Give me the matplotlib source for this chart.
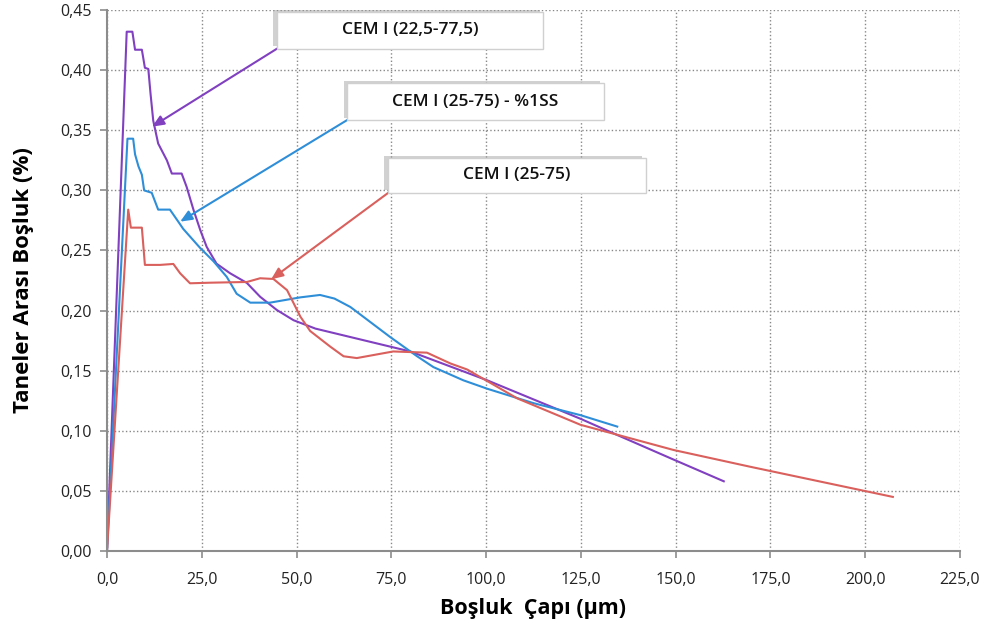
import matplotlib.pyplot as plt
from matplotlib.patches import Rectangle
from matplotlib.ticker import MultipleLocator, FuncFormatter

purple_x = [0, 5.2, 6.7, 7.4, 9.2, 10.0, 10.9, 11.5, 12.2, 13.5, 15.8, 17.1, 19.7, 21.0,
            22.8, 24.6, 26.3, 28.9, 32.5, 36.9, 40.4, 44.8, 49.2, 55.0, 64.2, 80.0,
            100.3, 124.9, 134.6, 149.5, 162.7]
purple_y = [0, 0.432, 0.432, 0.417, 0.417, 0.402, 0.401, 0.380, 0.358, 0.339, 0.325, 0.314,
            0.314, 0.303, 0.284, 0.267, 0.253, 0.239, 0.231, 0.223, 0.2115, 0.2005, 0.192,
            0.185, 0.178, 0.166, 0.142, 0.110, 0.0965, 0.076, 0.058]

blue_x = [0, 5.4, 6.9, 7.4, 8.3, 9.2, 9.8, 11.8, 13.5, 16.6, 18.8, 20.1, 24.6, 28.1, 31.6,
          34.2, 37.8, 43.0, 51.0, 56.2, 60.0, 64.2, 74.7, 81.8, 86.1, 94.0, 100.3, 112.5,
          124.9, 134.6]
blue_y = [0, 0.343, 0.343, 0.330, 0.320, 0.313, 0.300, 0.298, 0.284, 0.284, 0.274, 0.268,
          0.252, 0.241, 0.228, 0.214, 0.2066, 0.2066, 0.211, 0.213, 0.210, 0.203, 0.178,
          0.162, 0.153, 0.142, 0.135, 0.123, 0.113, 0.1035]

red_x = [0, 5.6, 6.3, 9.2, 10.0, 14.0, 17.5, 19.3, 21.9, 27.2, 36.9, 40.4, 43.9, 47.5,
         51.0, 53.6, 58.9, 62.4, 65.9, 75.5, 84.4, 90.6, 95.0, 108.2, 124.9, 149.5,
         169.8, 207.3]
red_y = [0, 0.284, 0.269, 0.269, 0.238, 0.238, 0.2388, 0.231, 0.2227, 0.2232, 0.2238,
         0.2269, 0.2263, 0.217, 0.195, 0.183, 0.170, 0.162, 0.1605, 0.166, 0.165, 0.156,
         0.151, 0.127, 0.105, 0.084, 0.070, 0.045]

labels = ['CEM I (22,5-77,5)', 'CEM I (25-75) - %1SS', 'CEM I (25-75)']
colors = ['#8040c0', '#2f8ed8', '#d9605c']

# callout boxes (x0, x1, y0, y1) and arrow tips, data coords
boxes = [(44.9, 115.1, 0.418, 0.448), (63.4, 131.0, 0.3586, 0.389), (74.2, 142.1, 0.298, 0.327)]
tips = [(11.9, 0.353), (19.3, 0.274), (43.3, 0.226)]

plt.rcParams['font.family'] = ['Open Sans', 'DejaVu Sans']

fig = plt.figure(figsize=(9.87, 6.29), dpi=100)
ax = fig.add_axes([0.1084, 0.124, 0.8642, 0.86])

for xs, ys, c in [(purple_x, purple_y, colors[0]), (blue_x, blue_y, colors[1]),
                  (red_x, red_y, colors[2])]:
    ax.plot(xs, ys, color=c, lw=1.5, solid_joinstyle='round')

ax.set_xlim(0, 225)
ax.set_ylim(0, 0.45)
ax.xaxis.set_major_locator(MultipleLocator(25))
ax.yaxis.set_major_locator(MultipleLocator(0.05))
ax.xaxis.set_major_formatter(FuncFormatter(lambda v, p: f'{v:.1f}'.replace('.', ',')))
ax.yaxis.set_major_formatter(FuncFormatter(lambda v, p: f'{v:.2f}'.replace('.', ',')))
ax.grid(True, linestyle=':', color='#888888', linewidth=1.0)
ax.set_axisbelow(True)

for s in ['top', 'right']:
    ax.spines[s].set_visible(False)
for s in ['left', 'bottom']:
    ax.spines[s].set_color('#8c8c8c')
    ax.spines[s].set_linewidth(1.5)
ax.tick_params(direction='out', length=5, width=1.2, color='#8c8c8c',
               labelsize=11.5, labelcolor='#222222', pad=6)
ax.tick_params(axis='x', pad=10)

ax.set_xlabel('Boşluk  Çapı (µm)', fontsize=15.5, fontweight='bold', labelpad=7)
ax.set_ylabel('Taneler Arası Boşluk (%)', fontsize=16, fontweight='bold', labelpad=19)

for (x0, x1, y0, y1), (tx, ty), lab, c in zip(boxes, tips, labels, colors):
    ax.annotate('', xy=(tx, ty), xytext=(x0, y0),
                arrowprops=dict(arrowstyle='-|>,head_length=0.7,head_width=0.3',
                                color=c, lw=1.5, shrinkA=0, shrinkB=0), zorder=4)
    ax.add_patch(Rectangle((x0 - 1.0, y0 + 0.002), x1 - x0, y1 - y0, facecolor='#9a9a9a',
                           edgecolor='none', alpha=0.45, zorder=4, clip_on=False))
    ax.add_patch(Rectangle((x0, y0), x1 - x0, y1 - y0, facecolor='white',
                           edgecolor='#d0d0d0', lw=1.0, zorder=5, clip_on=False))
    ax.text((x0 + x1) / 2, (y0 + y1) / 2, lab, ha='center', va='center',
            fontsize=12.5, fontweight='semibold', color='#111111', zorder=6)

fig.savefig('out.png', dpi=100)
